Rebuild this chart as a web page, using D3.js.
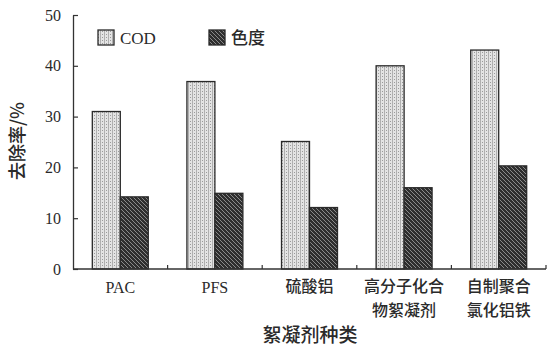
<!DOCTYPE html>
<html><head><meta charset="utf-8">
<script src="https://cdn.jsdelivr.net/npm/d3@7"></script>
<style>body{margin:0;background:#fff}svg{display:block}</style>
</head><body>
<script>
const categories = [["PAC"],["PFS"],["硫酸铝"],["高分子化合","物絮凝剂"],["自制聚合","氯化铝铁"]];
const series = ["COD","色度"];
const codValues = [31.0, 36.9, 25.1, 40.0, 43.1];
const colorValues = [14.2, 14.9, 12.1, 16.0, 20.3];
const yTicks = [0,10,20,30,40,50];

const W=554,H=356;
const m={left:73,right:8,top:15,bottom:87};
const svg=d3.select("body").append("svg").attr("width",W).attr("height",H);
const defs=svg.append("defs");
const p1=defs.append("pattern").attr("id","pCOD").attr("patternUnits","userSpaceOnUse").attr("width",4).attr("height",3);
p1.append("rect").attr("width",4).attr("height",3).attr("fill","#e4e4e4");
p1.append("rect").attr("x",0).attr("y",0).attr("width",1).attr("height",3).attr("fill","#b0b0b0");
p1.append("rect").attr("x",2).attr("y",1).attr("width",1).attr("height",1).attr("fill","#9a9a9a");
const p2=defs.append("pattern").attr("id","pCol").attr("patternUnits","userSpaceOnUse").attr("width",4).attr("height",4);
p2.append("rect").attr("width",4).attr("height",4).attr("fill","#2e2e2e");
p2.append("path").attr("d","M0,0 L4,4 M-1,3 L1,5 M3,-1 L5,1").attr("stroke","#8a8a8a").attr("stroke-width",1);

const x0=d3.scaleBand().domain(d3.range(categories.length)).range([m.left,W-m.right]).padding(0);
const x1=d3.scaleBand().domain(series).range([0,x0.bandwidth()]).paddingInner(0).paddingOuter(0.69);
const y=d3.scaleLinear().domain([0,50]).range([H-m.bottom,m.top]);

const latin="'Liberation Serif',serif";
const cjk="'Noto Sans CJK SC',sans-serif";
const fills={"COD":"url(#pCOD)","色度":"url(#pCol)"};
const vals={"COD":codValues,"色度":colorValues};
const isLatin=s=>/^[\x00-\x7f]*$/.test(s);

categories.forEach((c,i)=>{
  series.forEach(s=>{
    svg.append("rect")
      .attr("x",x0(i)+x1(s)).attr("width",x1.bandwidth())
      .attr("y",y(vals[s][i])).attr("height",y(0)-y(vals[s][i]))
      .attr("fill",fills[s]).attr("stroke","#2a2a2a").attr("stroke-width",1.3);
  });
});

const ya=svg.append("g").attr("transform",`translate(${m.left},0)`)
  .call(d3.axisLeft(y).tickValues(yTicks).tickSizeInner(-5).tickSizeOuter(0).tickPadding(12));
ya.select(".domain").attr("stroke","#333").attr("stroke-width",1.3);
ya.selectAll(".tick line").attr("stroke","#333").attr("stroke-width",1.2);
ya.selectAll("text").attr("font-family",latin).attr("font-size",16).attr("fill","#2a2a2a");

const xa=svg.append("g").attr("transform",`translate(0,${y(0)})`);
xa.append("line").attr("x1",m.left).attr("x2",W-m.right).attr("stroke","#333").attr("stroke-width",1.3);
categories.forEach((c,i)=>{
  const xb=x0(i)+x0.bandwidth();
  xa.append("line").attr("x1",xb).attr("x2",xb).attr("y1",0).attr("y2",-4).attr("stroke","#333").attr("stroke-width",1.2);
  const lat=isLatin(c[0]);
  c.forEach((line,j)=>{
    xa.append("text").attr("text-anchor","middle").attr("font-family",lat?latin:cjk).attr("fill","#2a2a2a")
      .attr("font-size",16).attr("font-weight",lat?400:500)
      .attr("x",x0(i)+x0.bandwidth()/2).attr("y",(lat?24:23)+j*23.5).text(line);
  });
});

const lg=[{s:"COD",x:98,tx:120},{s:"色度",x:209,tx:231}];
lg.forEach(d=>{
  svg.append("rect").attr("x",d.x).attr("y",30).attr("width",16).attr("height",15)
    .attr("fill",fills[d.s]).attr("stroke","#2a2a2a").attr("stroke-width",1.3);
  const lat=isLatin(d.s);
  svg.append("text").attr("x",d.tx).attr("y",44).attr("font-family",lat?latin:cjk).attr("font-size",17)
    .attr("font-weight",lat?400:500).attr("fill","#2a2a2a").text(d.s);
});

svg.append("text").attr("transform",`translate(24,141) rotate(-90)`).attr("text-anchor","middle")
  .attr("font-family",cjk).attr("font-weight",500).attr("font-size",18).attr("fill","#2a2a2a").text("去除率/%");
svg.append("text").attr("x",310).attr("y",342).attr("text-anchor","middle")
  .attr("font-family",cjk).attr("font-weight",500).attr("font-size",19).attr("fill","#2a2a2a").text("絮凝剂种类");
</script>
</body></html>
